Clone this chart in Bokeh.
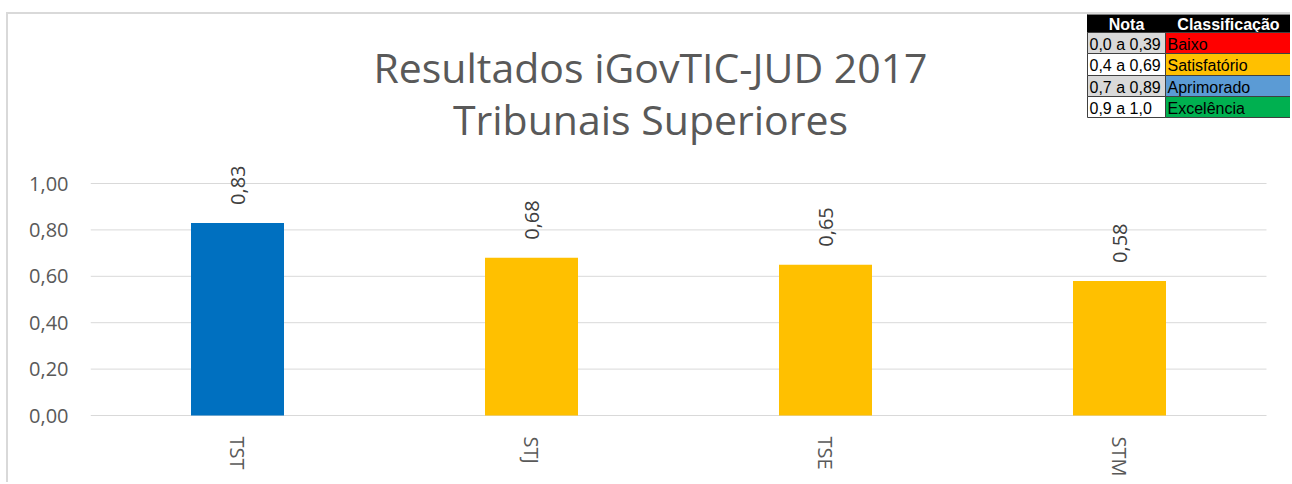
from math import pi

from bokeh.core.properties import value
from bokeh.embed import file_html
from bokeh.models import ColumnDataSource, FixedTicker, Range1d
from bokeh.plotting import figure
from bokeh.resources import INLINE

# ---------------- data ----------------
categories = ["TST", "STJ", "TSE", "STM"]
scores = [0.83, 0.68, 0.65, 0.58]
bar_colors = ["#0070C0", "#FFC000", "#FFC000", "#FFC000"]

y_ticks = [0.0, 0.2, 0.4, 0.6, 0.8, 1.0]
y_tick_labels = ["0,00", "0,20", "0,40", "0,60", "0,80", "1,00"]

title_lines = ["Resultados iGovTIC-JUD 2017", "Tribunais Superiores"]

legend_header = ["Nota", "Classificação"]
legend_ranges = ["0,0 a 0,39", "0,4 a 0,69", "0,7 a 0,89", "0,9 a 1,0"]
legend_classes = ["Baixo", "Satisfatório", "Aprimorado", "Excelência"]
legend_class_colors = ["#FF0000", "#FFC000", "#5B9BD5", "#00B050"]
legend_range_fills = ["#D9D9D9", "#FFFFFF", "#D9D9D9", "#FFFFFF"]

# ---------------- layout helpers (page pixels -> data) ----------------
ORIGIN_X = 8      # canvas left on page (margin + border)
ORIGIN_Y = 14     # canvas top on page
CANVAS_W = 1292 - ORIGIN_X
CANVAS_H = 484 - ORIGIN_Y
FRAME_L, FRAME_R, FRAME_T, FRAME_B = 90, 1292, ORIGIN_Y, 420
ZERO_Y, ONE_Y = 415, 183
CAT_W = 294.0
PX_PER_UNIT = float(ZERO_Y - ONE_Y)


def X(px):
    return (px - FRAME_L) / CAT_W


def Y(py):
    return (ZERO_Y - py) / PX_PER_UNIT


p = figure(
    width=CANVAS_W,
    height=CANVAS_H,
    x_range=Range1d(X(FRAME_L), X(FRAME_R)),
    y_range=Range1d(Y(FRAME_B), Y(FRAME_T)),
    output_backend="svg",
    toolbar_location=None,
    min_border_left=FRAME_L - ORIGIN_X,
    min_border_right=0,
    min_border_top=0,
    min_border_bottom=ORIGIN_Y + CANVAS_H - FRAME_B,
)
p.styles = {
    "margin-left": "6px",
    "margin-top": "12px",
    "border-left": "2px solid #D9D9D9",
    "border-top": "2px solid #D9D9D9",
}
p.outline_line_color = None
p.xgrid.visible = False
p.ygrid.visible = False
p.background_fill_color = "white"
p.border_fill_color = "white"

# gridlines
p.segment(x0=[0] * len(y_ticks), x1=[len(categories)] * len(y_ticks),
          y0=y_ticks, y1=y_ticks, line_color="#D9D9D9", line_width=1)

# bars
xs = [i + 0.5 for i in range(len(categories))]
src = ColumnDataSource(dict(
    x=xs, top=scores, color=bar_colors,
    label=[f"{v:.2f}".replace(".", ",") for v in scores],
))
p.vbar(x="x", top="top", bottom=0, width=93 / CAT_W, fill_color="color",
       line_color=None, source=src)

# value labels (rotated)
p.text(x="x", y="top", text="label", source=src, angle=pi / 2,
       text_align="left", text_baseline="middle", y_offset=-18,
       text_font=value("Open Sans"), text_font_size="20px", text_color="#404040")

# axes
p.yaxis.ticker = FixedTicker(ticks=y_ticks)
p.yaxis.major_label_overrides = dict(zip(y_ticks, y_tick_labels))
p.xaxis.ticker = FixedTicker(ticks=xs)
p.xaxis.major_label_overrides = dict(zip(xs, categories))
p.xaxis.major_label_orientation = "vertical"
for ax in (p.xaxis, p.yaxis):
    ax.axis_line_color = None
    ax.major_tick_line_color = None
    ax.minor_tick_line_color = None
    ax.major_tick_out = 0
    ax.major_tick_in = 0
    ax.major_label_text_font = "Open Sans"
    ax.major_label_text_font_size = "20px"
    ax.major_label_text_color = "#595959"
p.yaxis.major_label_standoff = 22
p.xaxis.major_label_standoff = 16

# title
p.text(x=[X(650)] * 2, y=[Y(66), Y(118)], text=title_lines,
       text_align="center", text_baseline="alphabetic",
       text_font=value("Open Sans"), text_font_size="41px", text_color="#595959")

# classification table
TL, TM, TR = 1087, 1165, 1291
row_edges = [13, 32, 53, 75, 96, 117]
p.quad(left=[X(TL)], right=[X(TR)], top=[Y(row_edges[0])], bottom=[Y(row_edges[1])],
       fill_color="black", line_color="black")
p.text(x=[X((TL + TM) / 2), X((TM + TR) / 2)], y=[Y((row_edges[0] + row_edges[1]) / 2 + 1)] * 2,
       text=legend_header, text_align="center", text_baseline="middle",
       text_font=value("Liberation Sans"), text_font_style="bold",
       text_font_size="16px", text_color="white")
tops = [Y(v) for v in row_edges[1:-1]]
bots = [Y(v) for v in row_edges[2:]]
mids = [Y((a + b) / 2 + 1) for a, b in zip(row_edges[1:-1], row_edges[2:])]
n = len(legend_ranges)
p.quad(left=[X(TL)] * n, right=[X(TM)] * n, top=tops, bottom=bots,
       fill_color=legend_range_fills, line_color="#404040", line_width=1)
p.quad(left=[X(TM)] * n, right=[X(TR)] * n, top=tops, bottom=bots,
       fill_color=legend_class_colors, line_color="#404040", line_width=1)
p.text(x=[X(TL + 2)] * n, y=mids, text=legend_ranges, text_align="left",
       text_baseline="middle", text_font=value("Liberation Sans"),
       text_font_size="16px", text_color="black")
p.text(x=[X(TM + 2)] * n, y=mids, text=legend_classes, text_align="left",
       text_baseline="middle", text_font=value("Liberation Sans"),
       text_font_size="16px", text_color="black")

open("out.html", "w").write(file_html(p, INLINE))
